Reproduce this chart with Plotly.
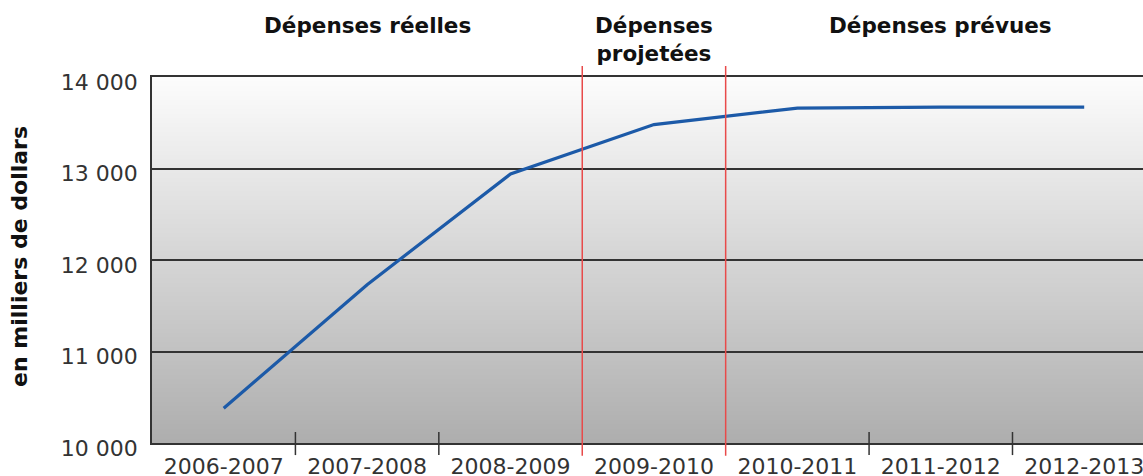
import plotly.graph_objects as go

# ---- data ----
categories = ["2006-2007", "2007-2008", "2008-2009", "2009-2010",
              "2010-2011", "2011-2012", "2012-2013"]
spending = [10380, 11730, 12940, 13480, 13660, 13670, 13670]
y_ticks = [10000, 11000, 12000, 13000, 14000]
y_ticktext = ["10 000", "11 000", "12 000", "13 000", "14 000"]
section_titles = ["Dépenses réelles", "Dépenses<br>projetées", "Dépenses prévues"]
section_centers = [1, 3, 5]          # category index at which each header is centred
section_dividers = [2.5, 3.5]        # boundaries between sections
y_title = "en milliers de dollars"

FONT = "DejaVu Sans"

fig = go.Figure()
fig.add_trace(go.Scatter(
    x=list(range(len(categories))), y=spending, mode="lines",
    line=dict(color="#1c5aa8", width=3.2), showlegend=False, hoverinfo="skip"))

shapes = []
# vertical gradient background (white top -> grey bottom)
n = 80
top, bot = 252, 174
for i in range(n):
    t = (i + 0.5) / n
    c = round(bot + (top - bot) * t)
    shapes.append(dict(type="rect", xref="paper", yref="paper",
                       x0=0, x1=1, y0=i / n, y1=(i + 1) / n + 0.002,
                       fillcolor=f"rgb({c},{c},{c})", line=dict(width=0),
                       layer="below"))

# category boundary ticks crossing the axis
for b in [i + 0.5 for i in range(len(categories) - 1)]:
    if b in section_dividers:
        continue
    shapes.append(dict(type="line", xref="x", yref="paper", x0=b, x1=b,
                       y0=0.030, y1=-0.033, line=dict(color="#333333", width=1.5)))
# red section dividers
for b in section_dividers:
    shapes.append(dict(type="line", xref="x", yref="paper", x0=b, x1=b,
                       y0=-0.035, y1=1.03, line=dict(color="#e84a4a", width=1.5)))

annotations = []
for txt, xc in zip(section_titles, section_centers):
    annotations.append(dict(text=f"<b>{txt}</b>", x=xc, xref="x", y=1.18, yref="paper",
                            xanchor="center", yanchor="top", showarrow=False,
                            align="center",
                            font=dict(family=FONT, size=21.5, color="#111111")))
annotations.append(dict(text=f"<b>{y_title}</b>", x=-0.133, xref="paper", y=0.509,
                        yref="paper", xanchor="center", yanchor="middle",
                        textangle=-90, showarrow=False,
                        font=dict(family=FONT, size=22, color="#111111")))

fig.update_layout(
    width=1143, height=476,
    margin=dict(l=152, r=0, t=77, b=33),
    paper_bgcolor="white", plot_bgcolor="white",
    shapes=shapes, annotations=annotations,
    xaxis=dict(type="linear", range=[-0.5, 6.41],
               tickvals=list(range(len(categories))), ticktext=categories,
               ticks="", showgrid=False, zeroline=False,
               showline=True, linecolor="#333333", linewidth=1.5, mirror=True,
               tickfont=dict(family=FONT, size=22, color="#333333"),
               ticklabelstandoff=3, ticklabeloverflow="allow", automargin=False),
    yaxis=dict(range=[10000, 14000], tickvals=y_ticks, ticktext=y_ticktext,
               ticks="", showgrid=True, gridcolor="#333333", gridwidth=1.5,
               zeroline=False, showline=True, linecolor="#333333", linewidth=1.5,
               tickfont=dict(family=FONT, size=22, color="#333333"),
               ticklabelstandoff=8, ticklabelshift=5, automargin=False),
)

fig.write_html("out.html")
